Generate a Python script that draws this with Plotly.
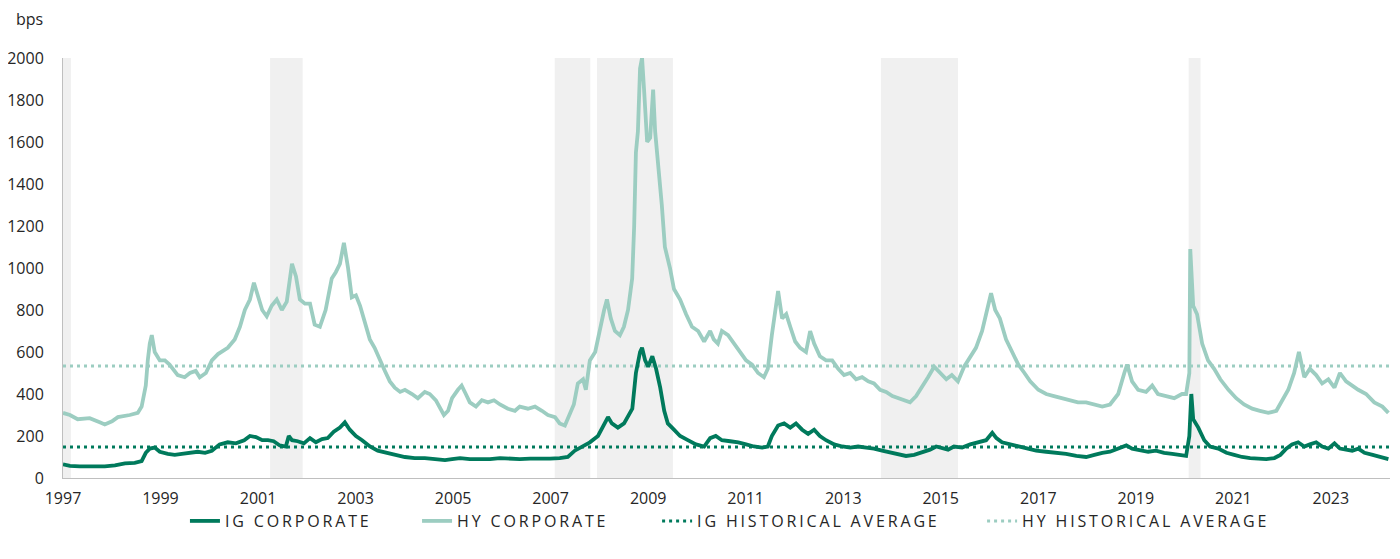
import plotly.graph_objects as go

# ---------------- data ----------------
hy_dates = ["1997-01-01","1997-02-22","1997-04-21","1997-07-20","1997-10-03","1997-11-10","1998-01-03","1998-02-16",
"1998-05-16","1998-07-15","1998-08-13","1998-09-13","1998-09-28","1998-10-13","1998-10-28","1998-11-19","1998-12-27",
"1999-02-03","1999-03-10","1999-05-10","1999-07-01","1999-08-10","1999-09-22","1999-10-22","1999-12-07","2000-01-21",
"2000-03-07","2000-04-04","2000-05-19","2000-07-10","2000-08-18","2000-09-24","2000-11-01","2000-12-01","2001-01-01",
"2001-02-01","2001-03-07","2001-04-13","2001-05-21","2001-06-28","2001-08-04","2001-09-12","2001-10-12","2001-11-10",
"2001-12-18","2002-01-25","2002-03-01","2002-04-09","2002-05-22","2002-07-07","2002-08-06","2002-09-06","2002-10-06",
"2002-11-06","2002-12-04","2003-01-04","2003-02-04","2003-03-10","2003-04-18","2003-05-24","2003-07-01","2003-08-09",
"2003-09-15","2003-10-22","2003-12-01","2004-01-06","2004-02-28","2004-04-12","2004-06-03","2004-07-10","2004-08-25",
"2004-09-24","2004-10-24","2004-11-24","2004-12-24","2005-02-06","2005-03-06","2005-04-06","2005-05-06","2005-06-21",
"2005-08-04","2005-09-19","2005-11-03","2005-12-18","2006-02-15","2006-04-09","2006-05-15","2006-07-15","2006-09-06",
"2006-10-28","2006-12-12","2007-02-03","2007-03-10","2007-04-18","2007-05-24","2007-06-24","2007-07-24","2007-09-01",
"2007-09-22","2007-10-22","2007-12-01","2008-01-06","2008-02-06","2008-02-27","2008-03-27","2008-04-27","2008-06-03",
"2008-07-03","2008-08-03","2008-09-03","2008-09-18","2008-10-01","2008-10-16","2008-11-01","2008-11-16","2008-12-01",
"2008-12-24","2009-01-16","2009-02-07","2009-02-22","2009-03-16","2009-04-13","2009-05-06","2009-06-13","2009-07-13",
"2009-08-28","2009-10-12","2009-11-25","2010-01-10","2010-02-24","2010-04-10","2010-05-07","2010-06-07","2010-07-07",
"2010-08-22","2010-10-07","2010-11-19","2011-01-04","2011-02-18","2011-04-04","2011-05-18","2011-06-16","2011-07-16",
"2011-08-16","2011-09-01","2011-10-01","2011-11-01","2011-12-01","2012-01-07","2012-02-13","2012-03-28","2012-04-28",
"2012-05-28","2012-07-10","2012-08-25","2012-10-10","2012-11-24","2013-01-07","2013-02-22","2013-04-07","2013-05-22",
"2013-07-07","2013-08-19","2013-10-04","2013-11-18","2014-01-04","2014-02-16","2014-04-01","2014-05-16","2014-07-01",
"2014-08-13","2014-09-28","2014-11-13","2014-12-28","2015-02-12","2015-03-25","2015-05-10","2015-06-25","2015-08-10",
"2015-09-22","2015-11-07","2015-12-22","2016-01-13","2016-02-13","2016-03-19","2016-05-04","2016-06-19","2016-08-04",
"2016-09-19","2016-11-01","2017-01-01","2017-03-01","2017-04-28","2017-06-28","2017-08-28","2017-10-25","2017-12-25",
"2018-02-25","2018-04-25","2018-06-22","2018-08-22","2018-10-07","2018-10-28","2018-12-04","2019-01-19","2019-03-19",
"2019-05-04","2019-06-16","2019-08-16","2019-10-16","2019-12-13","2020-01-13","2020-02-06","2020-02-13","2020-03-06",
"2020-04-04","2020-05-12","2020-06-25","2020-08-10","2020-09-25","2020-11-25","2021-01-22","2021-03-22","2021-05-22",
"2021-07-19","2021-09-19","2021-11-19","2022-01-04","2022-02-16","2022-04-01","2022-05-07","2022-06-16","2022-07-28",
"2022-09-13","2022-10-28","2022-12-13","2023-01-28","2023-03-10","2023-04-25","2023-06-10","2023-07-25","2023-09-22",
"2023-11-22","2024-01-22","2024-03-07"]
hy_values = [310,300,280,285,265,255,270,290,
300,310,340,440,560,640,680,600,560,
560,540,490,480,500,510,480,500,560,
590,600,620,660,720,800,850,930,860,
800,770,820,850,800,840,1020,960,850,
830,830,730,720,800,950,980,1020,1120,
1000,860,870,820,740,660,620,560,510,
460,430,410,420,400,380,410,400,370,
330,300,320,380,420,440,400,360,340,
370,360,370,350,330,320,340,330,340,
320,300,290,260,250,300,350,450,470,
420,560,600,720,800,850,760,700,680,
720,800,950,1200,1550,1650,1950,2000,1850,
1600,1620,1850,1650,1500,1300,1100,1000,900,
850,780,720,700,650,700,660,640,700,
680,640,600,560,540,500,480,520,680,
820,890,760,780,720,650,620,600,700,
640,580,560,560,520,490,500,470,480,
460,450,420,410,390,380,370,360,390,
430,480,530,500,470,490,460,530,580,
620,700,820,880,800,760,660,600,540,
500,460,420,400,390,380,370,360,360,
350,340,350,400,500,540,460,420,410,
440,400,390,380,400,400,500,1090,820,
780,640,560,520,470,420,380,350,330,
320,310,320,370,420,500,600,480,520,
490,450,470,430,500,460,440,420,400,
360,340,310]

ig_dates = ["1997-01-01","1997-02-22","1997-05-06","1997-08-28","1997-11-10","1998-01-25","1998-04-10","1998-06-22",
"1998-08-13","1998-09-13","1998-10-13","1998-11-19","1998-12-27","1999-02-25","1999-04-18","1999-06-10","1999-08-10",
"1999-10-07","1999-12-01","2000-01-21","2000-03-19","2000-05-19","2000-07-19","2000-09-19","2000-11-01","2000-12-16",
"2001-02-01","2001-03-16","2001-04-28","2001-06-13","2001-07-28","2001-08-19","2001-09-12","2001-10-25","2001-12-10",
"2002-01-25","2002-03-10","2002-04-25","2002-06-07","2002-07-22","2002-09-06","2002-10-13","2002-11-19","2003-01-04",
"2003-02-19","2003-04-19","2003-06-16","2003-08-16","2003-10-22","2004-01-06","2004-03-19","2004-06-03","2004-08-19",
"2004-11-01","2004-12-24","2005-02-22","2005-05-06","2005-07-19","2005-10-04","2005-12-18","2006-03-01","2006-05-15",
"2006-08-01","2006-10-13","2006-12-28","2007-03-10","2007-05-10","2007-07-01","2007-08-25","2007-10-22","2007-12-22",
"2008-02-06","2008-03-06","2008-04-04","2008-05-19","2008-07-04","2008-08-04","2008-09-04","2008-10-01","2008-11-01",
"2008-11-16","2008-12-09","2009-01-01","2009-02-01","2009-03-01","2009-04-01","2009-05-01","2009-05-28","2009-07-13",
"2009-08-28","2009-10-25","2009-12-25","2010-02-24","2010-04-10","2010-05-22","2010-07-07","2010-09-07","2010-11-07",
"2011-01-04","2011-03-04","2011-05-04","2011-06-16","2011-07-16","2011-09-01","2011-10-16","2011-12-01","2012-01-13",
"2012-02-28","2012-04-13","2012-05-28","2012-07-10","2012-08-25","2012-10-25","2012-12-25","2013-02-22","2013-04-22",
"2013-06-22","2013-08-19","2013-10-19","2013-12-19","2014-02-16","2014-04-16","2014-06-16","2014-08-13","2014-10-13",
"2014-11-28","2015-01-13","2015-02-25","2015-04-10","2015-06-10","2015-08-10","2015-10-07","2015-12-07","2016-01-22",
"2016-02-22","2016-04-04","2016-06-04","2016-08-04","2016-10-01","2016-12-16","2017-03-01","2017-05-13","2017-07-28",
"2017-10-13","2017-12-25","2018-02-25","2018-04-25","2018-06-22","2018-08-22","2018-10-22","2018-12-04","2019-02-04",
"2019-04-04","2019-06-01","2019-08-01","2019-10-01","2019-12-01","2020-01-13","2020-02-06","2020-02-21","2020-03-06",
"2020-04-13","2020-05-28","2020-07-10","2020-09-10","2020-11-10","2021-01-07","2021-03-07","2021-05-07","2021-07-07",
"2021-09-04","2021-11-04","2021-12-19","2022-02-01","2022-03-16","2022-05-01","2022-06-16","2022-07-28","2022-09-13",
"2022-10-28","2022-12-13","2023-01-28","2023-03-10","2023-04-25","2023-06-10","2023-07-25","2023-09-10","2023-11-10",
"2024-01-07","2024-03-07"]
ig_values = [65,58,55,55,55,60,70,72,
80,120,140,145,125,115,110,115,120,
125,120,130,160,170,165,180,200,195,
180,180,175,155,150,200,180,175,165,
190,170,185,190,220,240,265,230,200,
180,150,130,120,110,100,95,95,90,
85,90,95,90,88,90,95,92,90,
92,90,92,95,100,130,150,170,200,
260,290,260,240,260,300,330,500,600,
620,560,530,580,520,430,320,260,230,
200,180,160,150,190,200,180,175,170,
160,150,145,150,200,250,260,240,260,
230,210,230,200,180,160,150,145,150,
145,140,130,120,110,105,110,120,135,
150,140,135,150,145,160,170,180,215,
190,170,160,150,140,130,125,120,115,
105,100,110,120,125,140,155,140,130,
125,130,120,115,110,105,200,400,280,
240,180,150,140,120,110,100,95,92,
90,95,110,140,160,170,150,160,170,
150,140,165,140,135,130,140,120,110,
100,90]

ig_avg = 148
hy_avg = 533
period_starts = ["1997-01-01","2001-04-01","2007-02-01","2007-12-15","2013-10-10","2020-02-01"]
period_ends   = ["1997-03-01","2001-12-01","2007-10-25","2009-07-05","2015-05-10","2020-04-30"]
x_start, x_end = "1997-01-01", "2024-03-19"
ytick_vals = list(range(0, 2001, 200))

IG_COLOR = "#007A5C"
HY_COLOR = "#9CCDC1"
FONT = "Open Sans"
TXT = "#262626"

def spaced(t):
    return '<span style="letter-spacing:2.85px">' + t + '</span>'

fig = go.Figure()
# draw order: HY below IG
fig.add_trace(go.Scatter(x=hy_dates, y=hy_values, mode="lines", name=spaced("HY CORPORATE"),
                         line=dict(color=HY_COLOR, width=3.8), legend="legend2"))
fig.add_trace(go.Scatter(x=[x_start, x_end], y=[hy_avg, hy_avg], mode="lines", name=spaced("HY HISTORICAL AVERAGE"),
                         line=dict(color=HY_COLOR, width=3, dash="3px,4px"), legend="legend4"))
fig.add_trace(go.Scatter(x=[x_start, x_end], y=[ig_avg, ig_avg], mode="lines", name=spaced("IG HISTORICAL AVERAGE"),
                         line=dict(color=IG_COLOR, width=3, dash="3px,4px"), legend="legend3"))
fig.add_trace(go.Scatter(x=ig_dates, y=ig_values, mode="lines", name=spaced("IG CORPORATE"),
                         line=dict(color=IG_COLOR, width=3.8), legend="legend"))

for s, e in zip(period_starts, period_ends):
    fig.add_shape(type="rect", xref="x", yref="paper", x0=s, x1=e, y0=0, y1=1,
                  fillcolor="#F0F0F0", line=dict(width=0), layer="below")

def leg(xp):
    return dict(orientation="h", x=xp, xanchor="left", y=-0.1024, yanchor="middle",
                font=dict(family=FONT, size=16, color=TXT), bgcolor="rgba(0,0,0,0)")

fig.update_layout(
    width=1400, height=559,
    margin=dict(l=55, r=18, t=50, b=89, autoexpand=False),
    paper_bgcolor="white", plot_bgcolor="white",
    font=dict(family=FONT, size=16, color=TXT),
    showlegend=True,
    legend=leg(0.0919), legend2=leg(0.2668), legend3=leg(0.4477), legend4=leg(0.6926),
    annotations=[dict(text="bps", xref="paper", yref="paper", x=-0.025, y=1.093,
                      xanchor="center", yanchor="middle", showarrow=False,
                      font=dict(family=FONT, size=16, color=TXT))],
)
fig.update_xaxes(type="date", range=[x_start, x_end], tick0="1997-01-01", dtick="M24", tickformat="%Y",
                 showgrid=False, zeroline=False, showline=True, linecolor="#BFBFBF", linewidth=1,
                 ticks="", ticklabelstandoff=6)
fig.update_yaxes(range=[0, 2000], tickvals=ytick_vals, showgrid=False, zeroline=False,
                 showline=True, linecolor="#BFBFBF", linewidth=1, ticks="", ticklabelstandoff=15)

fig.write_html("out.html")
